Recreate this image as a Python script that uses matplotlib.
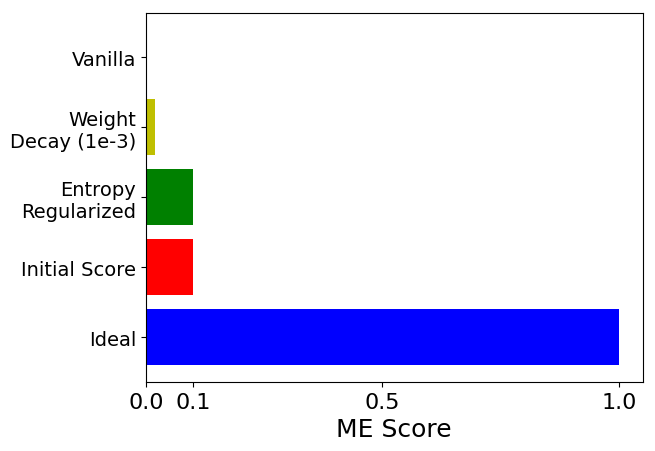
import matplotlib
matplotlib.use('Agg')
import matplotlib.pyplot as plt

labels = ['Ideal', 'Initial Score', 'Entropy\nRegularized', 'Weight\nDecay (1e-3)', 'Vanilla']
scores = [1.0, 0.1, 0.1, 0.018, 0.0]
colors = ['b', 'r', 'g', 'y', 'k']
xticks = [0.0, 0.1, 0.5, 1.0]

fig = plt.figure(figsize=(6.55, 4.52), dpi=100)
ax = fig.add_axes([146 / 655, 1 - 383 / 452, (642.5 - 146) / 655, (383 - 13.5) / 452])
ax.barh(range(len(labels)), scores, color=colors)
ax.set_yticks(range(len(labels)))
ax.set_yticklabels(labels, fontsize=14)
ax.set_xticks(xticks)
ax.set_xticklabels([str(t) for t in xticks], fontsize=16)
ax.set_xlim(0, 1.05)
ax.set_xlabel('ME Score', fontsize=18)
fig.savefig('out.png', dpi=100)
